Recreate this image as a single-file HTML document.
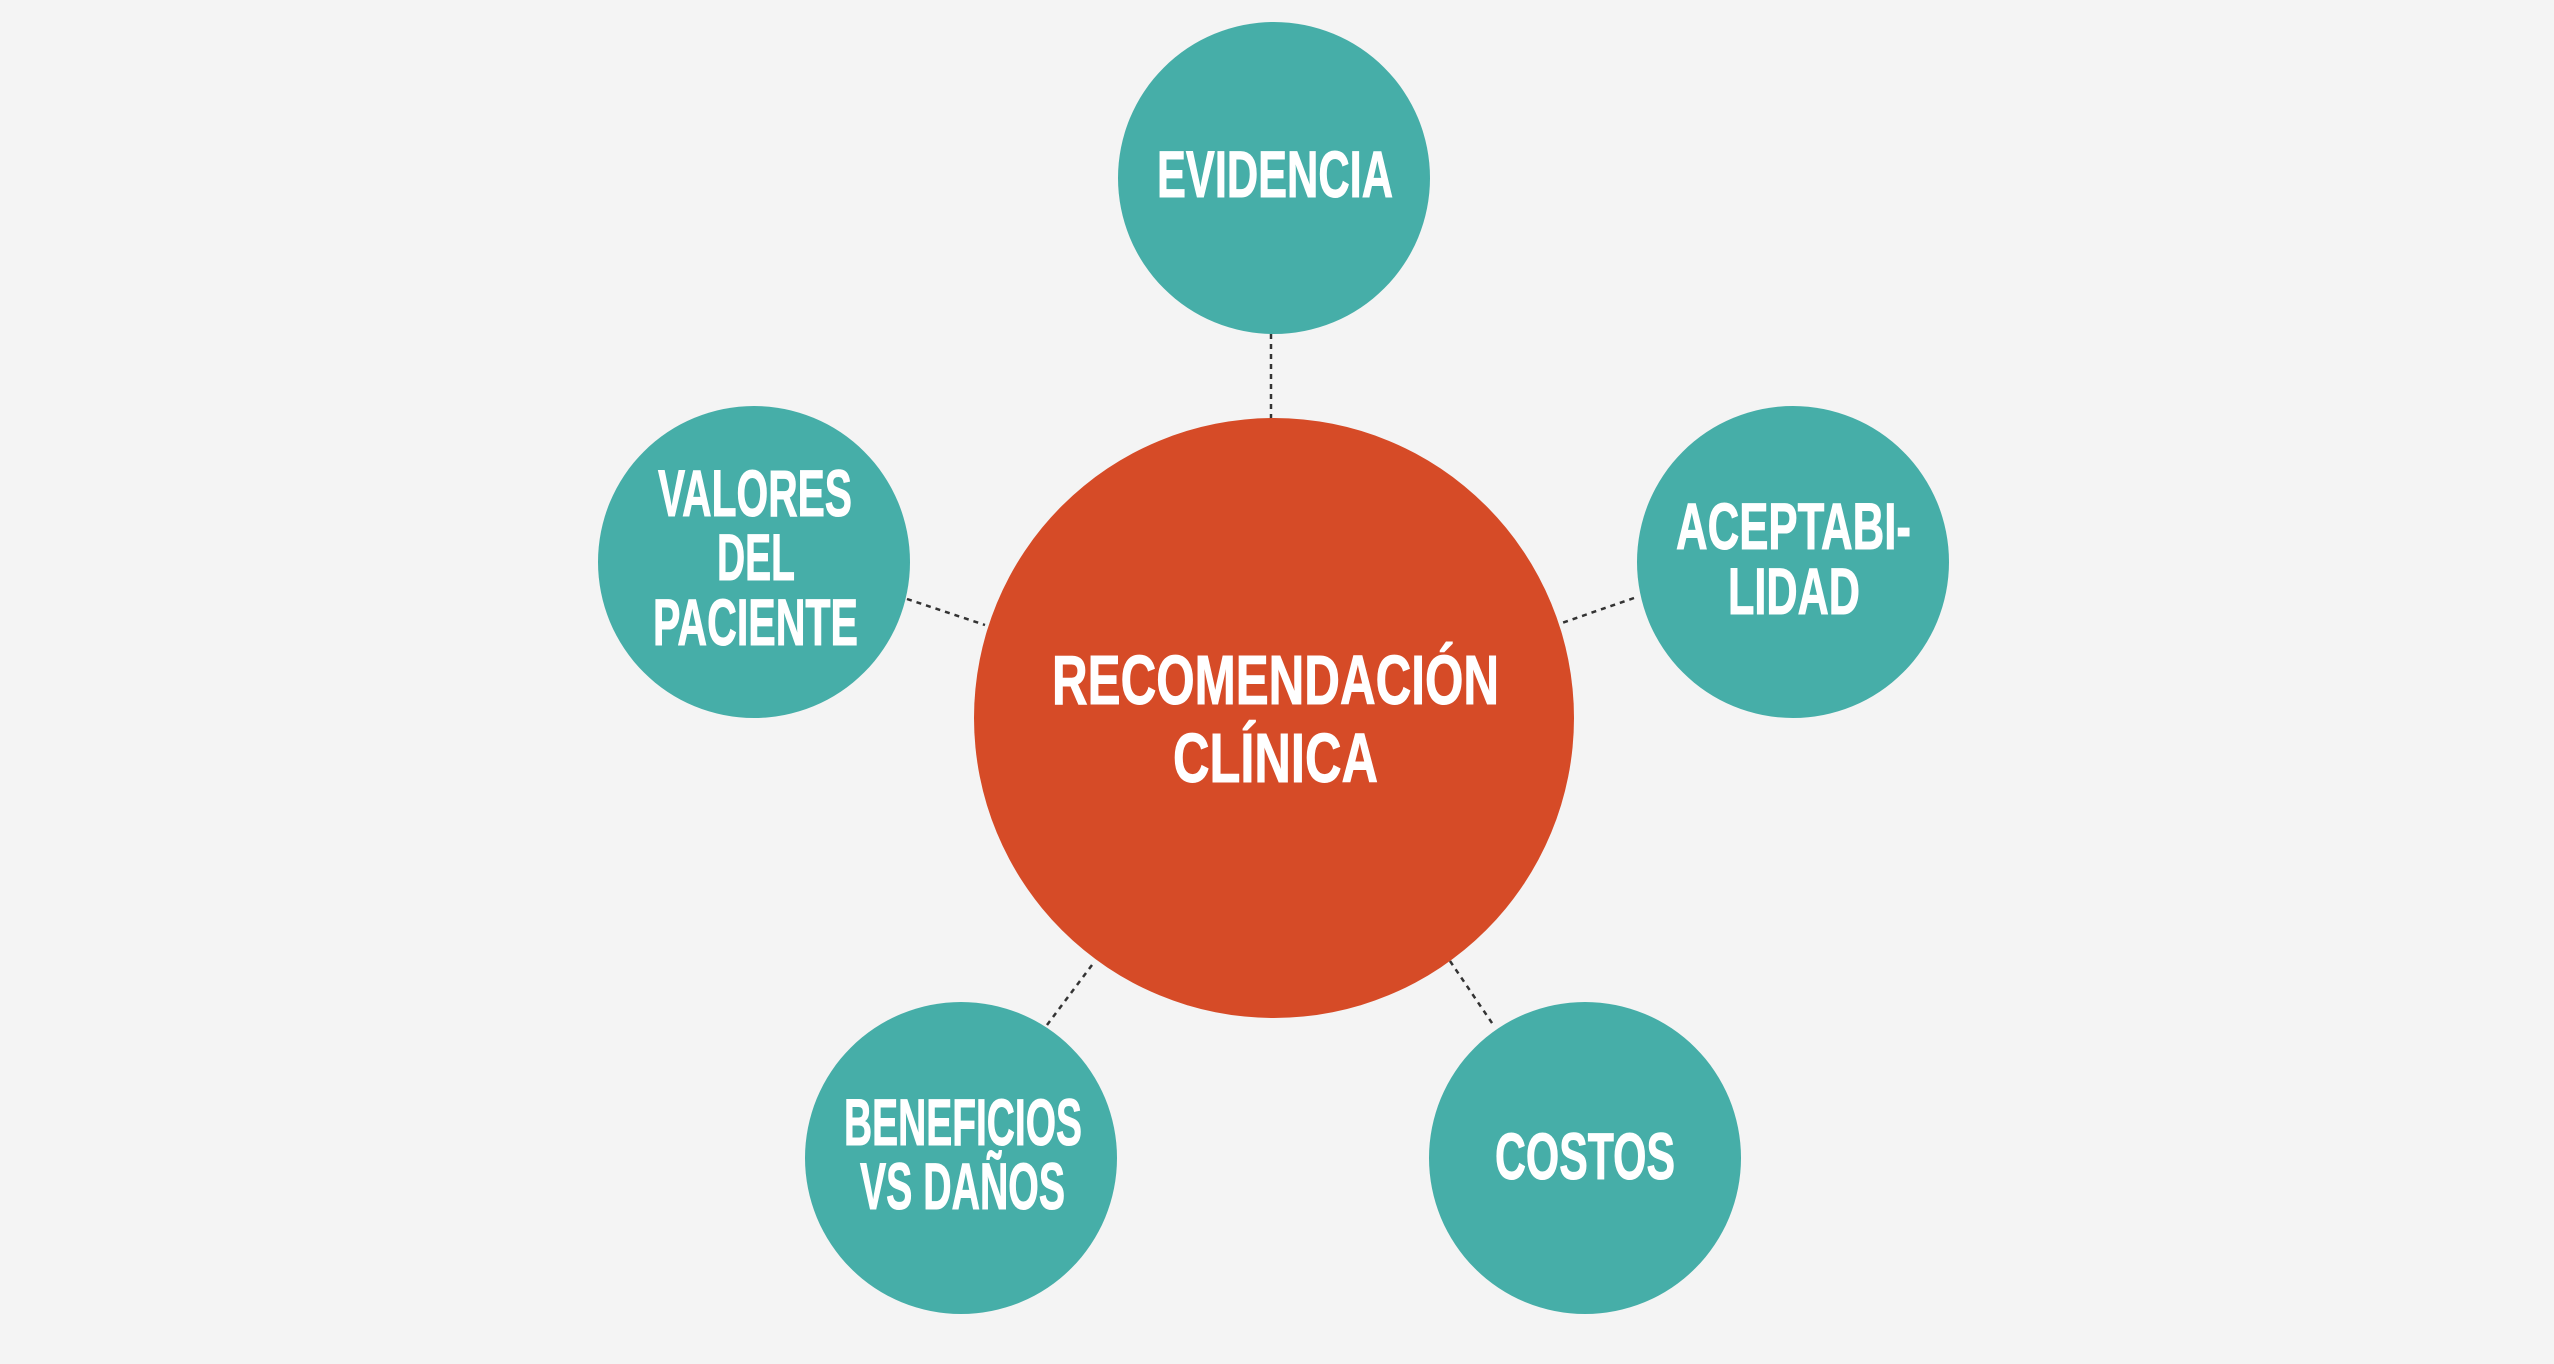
<!DOCTYPE html>
<html><head><meta charset="utf-8">
<style>
html,body{margin:0;padding:0;background:#f4f4f4;}
svg{display:block;}
text{font-family:"Liberation Sans Narrow","Liberation Sans",sans-serif;font-weight:bold;fill:#fff;stroke:#fff;stroke-width:1px;}
</style></head>
<body>
<svg width="2554" height="1364" viewBox="0 0 2554 1364" xmlns="http://www.w3.org/2000/svg">
<rect width="2554" height="1364" fill="#f4f4f4"/>
<g stroke="#333" stroke-width="2.5" stroke-dasharray="5,5">
<line x1="1271" y1="334" x2="1271" y2="419"/>
<line x1="907" y1="599" x2="985" y2="625"/>
<line x1="1634" y1="598" x2="1559" y2="624"/>
<line x1="1047" y1="1025" x2="1095" y2="961"/>
<line x1="1450" y1="961" x2="1494" y2="1026"/>
</g>
<circle cx="1274" cy="718" r="300" fill="#d64b27"/>
<g fill="#46aea8">
<circle cx="1274" cy="178" r="156"/>
<circle cx="754" cy="562" r="156"/>
<circle cx="1793" cy="562" r="156"/>
<circle cx="961" cy="1158" r="156"/>
<circle cx="1585" cy="1158" r="156"/>
</g>
<g font-size="66">
<text x="1157" y="197" textLength="236" lengthAdjust="spacingAndGlyphs">EVIDENCIA</text>
<text x="658" y="516" textLength="194" lengthAdjust="spacingAndGlyphs">VALORES</text>
<text x="717" y="580" textLength="78" lengthAdjust="spacingAndGlyphs">DEL</text>
<text x="653" y="645" textLength="205" lengthAdjust="spacingAndGlyphs">PACIENTE</text>
<text x="1676" y="549" textLength="235" lengthAdjust="spacingAndGlyphs">ACEPTABI-</text>
<text x="1728" y="614" textLength="132" lengthAdjust="spacingAndGlyphs">LIDAD</text>
<text x="844" y="1145" textLength="238" lengthAdjust="spacingAndGlyphs">BENEFICIOS</text>
<text x="860" y="1209" textLength="205" lengthAdjust="spacingAndGlyphs">VS DAÑOS</text>
<text x="1495" y="1179" textLength="180" lengthAdjust="spacingAndGlyphs">COSTOS</text>
</g>
<g font-size="70">
<text x="1052" y="704" textLength="447" lengthAdjust="spacingAndGlyphs">RECOMENDACIÓN</text>
<text x="1173" y="782" textLength="205" lengthAdjust="spacingAndGlyphs">CLÍNICA</text>
</g>
</svg>
</body></html>
